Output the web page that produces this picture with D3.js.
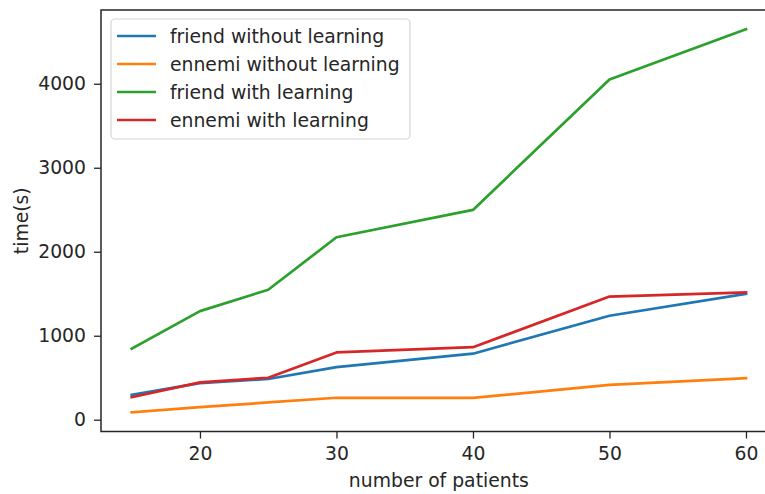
<!DOCTYPE html>
<html>
<head>
<meta charset="utf-8">
<script src="https://cdn.jsdelivr.net/npm/d3@7"></script>
<style>
  html, body { margin: 0; padding: 0; background: #fff; }
  svg { display: block; }
  text { font-family: "DejaVu Sans", sans-serif; fill: #262626; }
</style>
</head>
<body>
<svg id="chart" width="765" height="494"></svg>
<script>
// ---- data ----
const patients = [15, 20, 25, 30, 40, 50, 60];
const friendWithout = [295, 436, 485, 626, 786, 1238, 1498];
const ennemiWithout = [88, 150, 206, 262, 260, 415, 495];
const friendWith = [845, 1293, 1548, 2172, 2498, 4050, 4650];
const ennemiWith = [268, 444, 500, 801, 864, 1466, 1515];
const seriesNames = ["friend without learning", "ennemi without learning", "friend with learning", "ennemi with learning"];
const seriesColors = ["#1f77b4", "#ff7f0e", "#2ca02c", "#d62728"];
const xTicks = [20, 30, 40, 50, 60];
const yTicks = [0, 1000, 2000, 3000, 4000];
const xLabel = "number of patients";
const yLabel = "time(s)";

const series = [friendWithout, ennemiWithout, friendWith, ennemiWith].map((vals, i) => ({
  name: seriesNames[i], color: seriesColors[i],
  points: patients.map((p, j) => ({ x: p, y: vals[j] }))
}));

// ---- layout ----
const FS = 18.8;
const plot = { left: 101, top: 10, right: 776.7, bottom: 431.5 };
const svg = d3.select("#chart");

function padded(min, max) { const r = max - min; return [min - 0.05 * r, max + 0.05 * r]; }
const allY = series.flatMap(s => s.points.map(p => p.y));
const x = d3.scaleLinear().domain(padded(d3.min(patients), d3.max(patients))).range([plot.left, plot.right]);
const y = d3.scaleLinear().domain(padded(d3.min(allY), d3.max(allY))).range([plot.bottom, plot.top]);

// lines
const line = d3.line().x(d => x(d.x)).y(d => y(d.y));
svg.append("g").selectAll("path").data(series).join("path")
  .attr("d", d => line(d.points))
  .attr("fill", "none")
  .attr("stroke", d => d.color)
  .attr("stroke-width", 2.7)
  .attr("stroke-linejoin", "round")
  .attr("stroke-linecap", "square");

// axes
const xAxis = d3.axisBottom(x).tickValues(xTicks).tickSize(7).tickPadding(8).tickFormat(d3.format("d"));
const yAxis = d3.axisLeft(y).tickValues(yTicks).tickSize(7).tickPadding(8).tickFormat(d3.format("d"));

const gx = svg.append("g").attr("transform", `translate(0,${plot.bottom})`).call(xAxis);
const gy = svg.append("g").attr("transform", `translate(${plot.left},0)`).call(yAxis);
[gx, gy].forEach(g => {
  g.select(".domain").remove();
  g.selectAll(".tick line").attr("stroke", "#262626").attr("stroke-width", 1.3);
  g.selectAll(".tick text").attr("font-size", FS).attr("font-family", "DejaVu Sans").attr("fill", "#262626");
});

// spines
svg.append("rect")
  .attr("x", plot.left).attr("y", plot.top)
  .attr("width", plot.right - plot.left).attr("height", plot.bottom - plot.top)
  .attr("fill", "none").attr("stroke", "#262626").attr("stroke-width", 1.5);

// axis labels
svg.append("text").attr("x", (plot.left + plot.right) / 2).attr("y", 487)
  .attr("text-anchor", "middle").attr("font-size", FS).text(xLabel);
svg.append("text").attr("transform", `translate(28,${(plot.top + plot.bottom) / 2}) rotate(-90)`)
  .attr("text-anchor", "middle").attr("font-size", FS).text(yLabel);

// legend
const lg = svg.append("g");
lg.append("rect").attr("x", 111).attr("y", 19).attr("width", 299).attr("height", 120)
  .attr("rx", 4).attr("fill", "#fff").attr("fill-opacity", 0.8)
  .attr("stroke", "#d6d6d6").attr("stroke-width", 1.2);
const rows = lg.selectAll("g.row").data(series).join("g").attr("class", "row")
  .attr("transform", (d, i) => `translate(0,${36 + i * 28})`);
rows.append("line").attr("x1", 117).attr("x2", 156).attr("y1", 0).attr("y2", 0)
  .attr("stroke", d => d.color).attr("stroke-width", 2.7);
rows.append("text").attr("x", 170).attr("y", 0).attr("dy", "0.35em")
  .attr("font-size", FS).text(d => d.name);
</script>
</body>
</html>
